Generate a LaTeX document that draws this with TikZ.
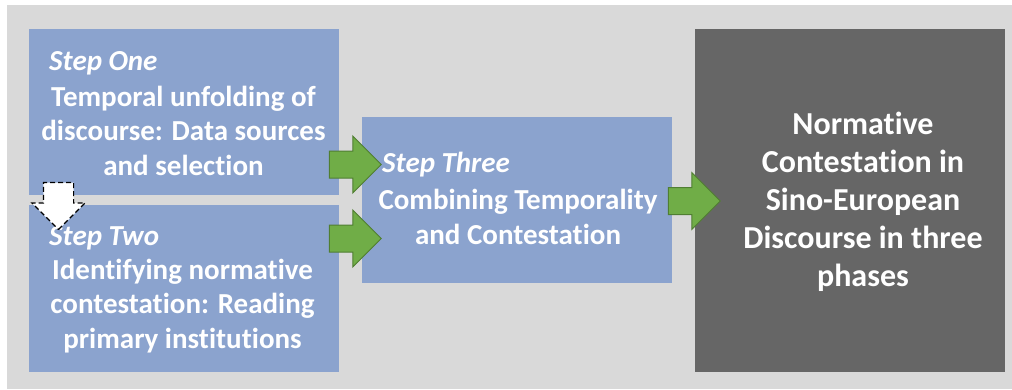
\documentclass[tikz,border=0pt]{standalone}
\usepackage{fontspec}
\setmainfont{Carlito}[Ligatures=NoCommon]
\usetikzlibrary{shapes.arrows}
\definecolor{boxblue}{RGB}{139,163,206}
\definecolor{bggray}{RGB}{217,217,217}
\definecolor{resultgray}{RGB}{102,102,102}
\definecolor{arrowgreen}{RGB}{112,173,71}
\definecolor{arrowedge}{RGB}{80,126,50}
\begin{document}
\begin{tikzpicture}[x=1pt, y=-1pt,
  stepbox/.style={rectangle, fill=boxblue, minimum width=310pt, minimum height=166pt, inner sep=0pt},
  resultbox/.style={rectangle, fill=resultgray, minimum width=310pt, minimum height=343pt, inner sep=0pt},
  steptitle/.style={anchor=base west, inner sep=0pt, text=white, font=\fontsize{29}{34.5}\selectfont\bfseries\itshape},
  steptext/.style={anchor=base, inner sep=0pt, align=center, text=white, font=\fontsize{29}{34.5}\selectfont\bfseries},
  resulttext/.style={anchor=base, inner sep=0pt, align=center, text=white, font=\fontsize{32}{38}\selectfont\bfseries},
  greenarrow/.style={single arrow, draw=arrowedge, line width=1pt, fill=arrowgreen, inner sep=13pt, single arrow head extend=15pt, minimum height=52pt},
  downarrow/.style={single arrow, draw=black, dash pattern=on 5pt off 3pt, line width=1.2pt, fill=white, inner sep=14.5pt, single arrow head extend=11.5pt, minimum height=47pt, rotate=-90}]
\useasboundingbox (0,0) rectangle (1012,389);
\fill [white] (0,0) rectangle (1012,389);
\fill [bggray] (7,5) rectangle (1012,389);
% boxes
\node [stepbox] (one) at (183.5,112) {};
\node [stepbox, minimum height=167pt] (two) at (183.5,288.5) {};
\node [stepbox] (three) at (517,200) {};
\node [resultbox] (result) at (850,200.5) {};
% texts
\node [steptitle] (one-title) at (49,70) {Step One};
\node [steptext] (one-text) at (183.5,175) {Temporal unfolding of\\discourse: Data sources\\and selection};
\node [steptitle] (two-title) at (49,245) {Step Two};
\node [steptext] (two-text) at (182.5,348) {Identifying normative\\contestation: Reading\\primary institutions};
\node [steptitle] (three-title) at (382,172) {Step Three};
\node [steptext] (three-text) at (518,244) {Combining Temporality\\and Contestation};
\node [resulttext] (result-text) at (863,286) {Normative\\Contestation in\\Sino-European\\Discourse in three\\phases};
% arrows
\node [greenarrow] (one-three) at (348.5,164.5) {};
\node [greenarrow] (two-three) at (348.5,238.5) {};
\node [greenarrow] (three-result) at (687.5,201) {};
\node [downarrow] (one-two) at (58.5,198.5) {};
\end{tikzpicture}
\end{document}
